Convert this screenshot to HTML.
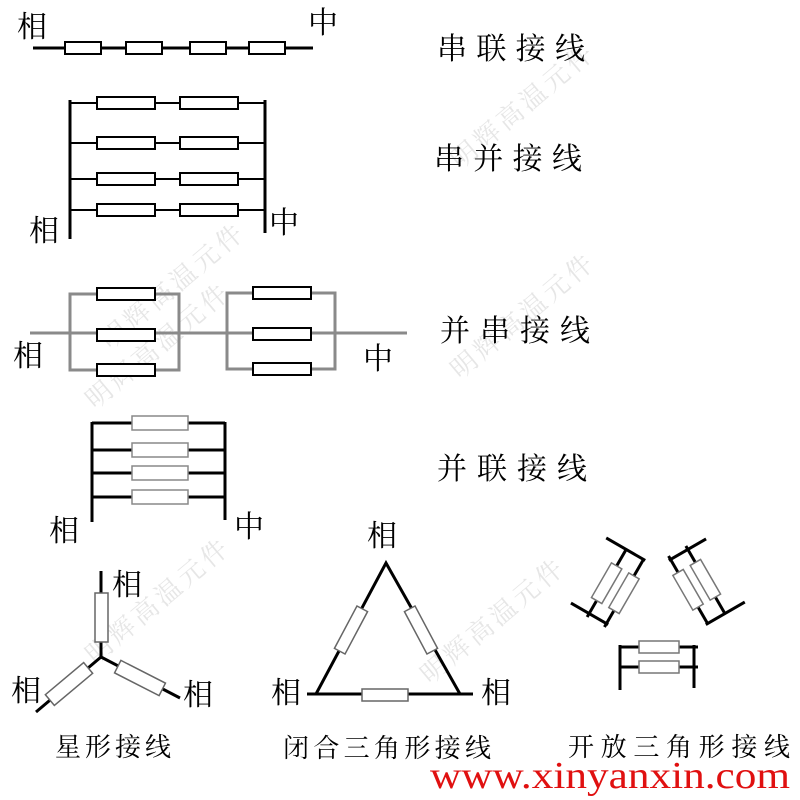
<!DOCTYPE html>
<html><head><meta charset="utf-8"><style>
html,body{margin:0;padding:0;background:#fff;}
svg{display:block;}
text{font-family:"Liberation Serif","Noto Serif CJK SC",serif;fill:#000;}
.h{font-size:30px;}
.l{font-size:30px;}
.wm{font-size:26px;fill:#e6e6e6;letter-spacing:4px;}
</style></head><body>
<svg width="800" height="800" viewBox="0 0 800 800" xmlns="http://www.w3.org/2000/svg">
<!-- watermarks -->
<text class="wm" transform="translate(110,350) rotate(-40)">明辉高温元件</text>
<text class="wm" transform="translate(95,410) rotate(-40)">明辉高温元件</text>
<text class="wm" transform="translate(460,170) rotate(-40)">明辉高温元件</text>
<text class="wm" transform="translate(460,380) rotate(-40)">明辉高温元件</text>
<text class="wm" transform="translate(95,665) rotate(-40)">明辉高温元件</text>
<text class="wm" transform="translate(430,685) rotate(-40)">明辉高温元件</text>

<!-- Headers -->
<text class="h" x="437" y="59" textLength="148" lengthAdjust="spacing">串联接线</text>
<text class="h" x="434" y="169" textLength="148" lengthAdjust="spacing">串并接线</text>
<text class="h" x="440" y="341" textLength="150" lengthAdjust="spacing">并串接线</text>
<text class="h" x="437" y="479" textLength="150" lengthAdjust="spacing">并联接线</text>

<!-- Series -->
<text class="l" x="17" y="37">相</text>
<text class="l" x="308" y="33">中</text>
<line x1="33" y1="48" x2="313" y2="48" stroke="#000" stroke-width="3"/>
<g fill="#fff" stroke="#000" stroke-width="2">
<rect x="65" y="42" width="36" height="12"/><rect x="126" y="42" width="36" height="12"/>
<rect x="190" y="42" width="36" height="12"/><rect x="249" y="42" width="36" height="12"/>
</g>

<!-- Series-parallel -->
<g stroke="#000" stroke-width="3">
<line x1="70" y1="100" x2="70" y2="239"/><line x1="265" y1="100" x2="265" y2="233"/>
</g>
<g stroke="#000" stroke-width="2">
<line x1="70" y1="103" x2="265" y2="103"/><line x1="70" y1="143" x2="265" y2="143"/>
<line x1="70" y1="179" x2="265" y2="179"/><line x1="70" y1="210" x2="265" y2="210"/>
</g>
<g fill="#fff" stroke="#000" stroke-width="2">
<rect x="97" y="97" width="58" height="12"/><rect x="180" y="97" width="58" height="12"/>
<rect x="97" y="137" width="58" height="12"/><rect x="180" y="137" width="58" height="12"/>
<rect x="97" y="173" width="58" height="12"/><rect x="180" y="173" width="58" height="12"/>
<rect x="97" y="204" width="58" height="12"/><rect x="180" y="204" width="58" height="12"/>
</g>
<text class="l" x="29" y="241">相</text>
<text class="l" x="269" y="233">中</text>

<!-- Parallel-series -->
<g stroke="#8a8a8a" stroke-width="3" fill="none">
<line x1="30" y1="333" x2="407" y2="333"/>
<rect x="70" y="294" width="109" height="76"/>
<rect x="227" y="293" width="108" height="76"/>
</g>
<g fill="#fff" stroke="#000" stroke-width="2">
<rect x="97" y="288" width="58" height="12"/><rect x="97" y="329" width="58" height="12"/><rect x="97" y="364" width="58" height="12"/>
<rect x="253" y="287" width="58" height="12"/><rect x="253" y="328" width="58" height="12"/><rect x="253" y="363" width="58" height="12"/>
</g>
<text class="l" x="13" y="366">相</text>
<text class="l" x="363" y="369">中</text>

<!-- Parallel -->
<g stroke="#000" stroke-width="3">
<line x1="92" y1="422" x2="92" y2="522"/><line x1="225" y1="422" x2="225" y2="520"/>
<line x1="92" y1="423" x2="225" y2="423"/><line x1="92" y1="450" x2="225" y2="450"/>
<line x1="92" y1="473" x2="225" y2="473"/><line x1="92" y1="497" x2="225" y2="497"/>
</g>
<g fill="#fff" stroke="#888" stroke-width="1.5">
<rect x="132" y="416" width="56" height="14"/><rect x="132" y="443" width="56" height="14"/>
<rect x="132" y="466" width="56" height="14"/><rect x="132" y="490" width="56" height="14"/>
</g>
<text class="l" x="49" y="541">相</text>
<text class="l" x="234" y="537">中</text>

<!-- Star -->
<g stroke="#000" stroke-width="3">
<line x1="101" y1="571" x2="101" y2="657"/>
<line x1="101" y1="657" x2="36" y2="712"/>
<line x1="101" y1="657" x2="180" y2="698"/>
</g>
<rect x="95" y="593" width="13" height="49" fill="#fff" stroke="#666" stroke-width="1.5"/>
<rect x="-25" y="-7" width="50" height="14" fill="#fff" stroke="#666" stroke-width="1.5" transform="translate(69,684) rotate(-40)"/>
<rect x="-25" y="-7" width="50" height="14" fill="#fff" stroke="#666" stroke-width="1.5" transform="translate(140,678) rotate(27)"/>
<text class="l" x="112" y="595">相</text>
<text class="l" x="11" y="701">相</text>
<text class="l" x="183" y="705">相</text>
<text x="55" y="756" style="font-size:26px" textLength="116" lengthAdjust="spacing">星形接线</text>

<!-- Closed triangle -->
<g stroke="#000" stroke-width="3" fill="none">
<polyline points="316,694 386,563 460,694"/>
<line x1="307" y1="694" x2="473" y2="694"/>
</g>
<rect x="362" y="689" width="46" height="12" fill="#fff" stroke="#666" stroke-width="1.5"/>
<rect x="-24" y="-6" width="48" height="12" fill="#fff" stroke="#666" stroke-width="1.5" transform="translate(351,630) rotate(-62)"/>
<rect x="-24" y="-6" width="48" height="12" fill="#fff" stroke="#666" stroke-width="1.5" transform="translate(421,630) rotate(62)"/>
<text class="l" x="367" y="546">相</text>
<text class="l" x="271" y="703">相</text>
<text class="l" x="481" y="703">相</text>
<text x="283" y="757" style="font-size:26px" textLength="208" lengthAdjust="spacing">闭合三角形接线</text>

<!-- Open triangle -->
<defs>
<g id="og">
<g stroke="#000" stroke-width="3">
<line x1="620" y1="645" x2="620" y2="690"/><line x1="694" y1="645" x2="694" y2="688"/>
<line x1="620" y1="647" x2="698" y2="647"/><line x1="620" y1="667" x2="698" y2="667"/>
</g>
<g fill="#fff" stroke="#777" stroke-width="1.5">
<rect x="639" y="641" width="40" height="12"/><rect x="639" y="661" width="40" height="12"/>
</g>
</g>
</defs>
<use href="#og"/>
<use href="#og" transform="rotate(120 657 610)"/>
<use href="#og" transform="rotate(-120 657 610)"/>
<text x="568" y="756" style="font-size:26px" textLength="222" lengthAdjust="spacing">开放三角形接线</text>

<text x="430" y="788" style="font-family:'Liberation Serif',serif;font-size:38px;fill:#e01010;" textLength="360" lengthAdjust="spacingAndGlyphs">www.xinyanxin.com</text>
</svg>
</body></html>
